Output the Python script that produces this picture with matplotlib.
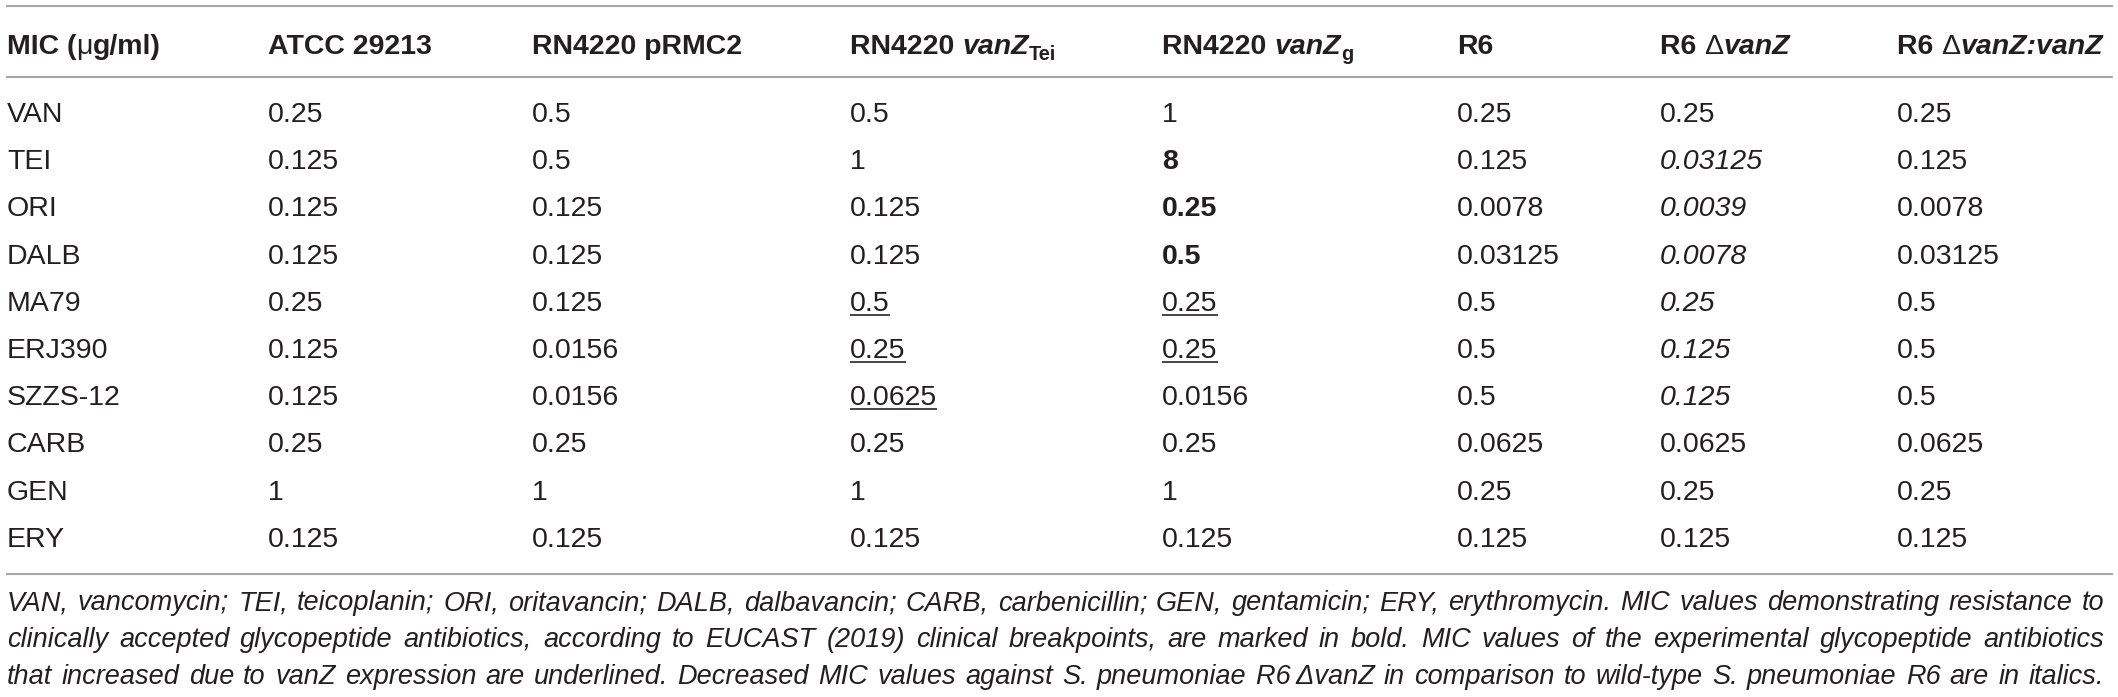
import matplotlib
matplotlib.use('Agg')
import matplotlib.pyplot as plt

W, H = 2118, 697

plt.rcParams['font.family'] = ['Liberation Sans', 'DejaVu Sans']

antibiotics = ['VAN', 'TEI', 'ORI', 'DALB', 'MA79', 'ERJ390', 'SZZS-12', 'CARB', 'GEN', 'ERY']
atcc_29213 = ['0.25', '0.125', '0.125', '0.125', '0.25', '0.125', '0.125', '0.25', '1', '0.125']
rn4220_prmc2 = ['0.5', '0.5', '0.125', '0.125', '0.125', '0.0156', '0.0156', '0.25', '1', '0.125']
rn4220_vanz_tei = ['0.5', '1', '0.125', '0.125', '0.5', '0.25', '0.0625', '0.25', '1', '0.125']
rn4220_vanz_g = ['1', '8', '0.25', '0.5', '0.25', '0.25', '0.0156', '0.25', '1', '0.125']
r6 = ['0.25', '0.125', '0.0078', '0.03125', '0.5', '0.5', '0.5', '0.0625', '0.25', '0.125']
r6_dvanz = ['0.25', '0.03125', '0.0039', '0.0078', '0.25', '0.125', '0.125', '0.0625', '0.25', '0.125']
r6_dvanz_vanz = ['0.25', '0.125', '0.0078', '0.03125', '0.5', '0.5', '0.5', '0.0625', '0.25', '0.125']

# (row, col) marks; col 1 = first strain column
bold_cells = [(1, 4), (2, 4), (3, 4)]
underlined_cells = [(4, 3), (4, 4), (5, 3), (5, 4), (6, 3)]
italic_cells = [(1, 6), (2, 6), (3, 6), (4, 6), (5, 6), (6, 6)]

# header runs: (text, style)  style: b=bold, n=normal, bi=bold italic, sub=bold subscript
headers = [
    [('MIC (', 'b'), ('\u03bc', 'n'), ('g/ml)', 'b')],
    [('ATCC 29213', 'b')],
    [('RN4220 pRMC2', 'b')],
    [('RN4220 ', 'b'), ('vanZ', 'bi'), ('Tei', 'sub')],
    [('RN4220 ', 'b'), ('vanZ', 'bi'), ('g', 'sub')],
    [('R6', 'b')],
    [('R6 ', 'b'), ('\u0394', 'n'), ('vanZ', 'bi')],
    [('R6 ', 'b'), ('\u0394', 'n'), ('vanZ:vanZ', 'bi')],
]

footnote = [
    'VAN, vancomycin; TEI, teicoplanin; ORI, oritavancin; DALB, dalbavancin; CARB, carbenicillin; '
    'GEN, gentamicin; ERY, erythromycin. MIC values demonstrating resistance to',
    'clinically accepted glycopeptide antibiotics, according to EUCAST (2019) clinical breakpoints, '
    'are marked in bold. MIC values of the experimental glycopeptide antibiotics',
    'that increased due to vanZ expression are underlined. Decreased MIC values against '
    'S. pneumoniae R6\u2009\u0394vanZ in comparison to wild-type S. pneumoniae R6 are in italics.',
]

columns = [antibiotics, atcc_29213, rn4220_prmc2, rn4220_vanz_tei, rn4220_vanz_g,
           r6, r6_dvanz, r6_dvanz_vanz]

col_x = [7, 268, 532, 850, 1162, 1457, 1660, 1897]
row_y0, row_dy = 112, 47.2
header_y = 43
txt_col = '#231f20'
line_col = '#a6a6a6'

fig = plt.figure(figsize=(W / 100, H / 100), dpi=100)
ax = fig.add_axes([0, 0, 1, 1])
ax.set_xlim(0, W)
ax.set_ylim(H, 0)
ax.axis('off')
renderer = fig.canvas.get_renderer()

styles = {
    'b': dict(fontweight='bold'),
    'n': dict(fontweight='normal'),
    'bi': dict(fontweight='bold', fontstyle='italic'),
    'sub': dict(fontweight='bold'),
}

# rules
for yy in [6, 77, 574]:
    ax.hlines(yy, 6, 2113, color=line_col, lw=1.5)

# header
hfs = 20.5
hbase = header_y + 10.5
for x0, runs in zip(col_x, headers):
    x = x0
    for s, st in runs:
        fs = hfs * 0.7 if st == 'sub' else hfs
        yb = hbase + 6 if st == 'sub' else hbase
        t = ax.text(x, yb, s, fontsize=fs, color=txt_col, va='baseline', ha='left', **styles[st])
        x += t.get_window_extent(renderer).width

# body
bfs = 20.5
for r in range(len(antibiotics)):
    yc = row_y0 + r * row_dy
    yb = yc + 10
    for c, col in enumerate(columns):
        kw = {}
        if (r, c) in bold_cells:
            kw['fontweight'] = 'bold'
        if (r, c) in italic_cells:
            kw['fontstyle'] = 'italic'
        t = ax.text(col_x[c], yb, col[r], fontsize=bfs, color=txt_col, va='baseline', ha='left', **kw)
        if (r, c) in underlined_cells:
            w = t.get_window_extent(renderer).width
            ax.hlines(yb + 4, col_x[c], col_x[c] + w, color='#444444', lw=1.4)

# footnote, justified
left, right = 7, 2104
base_y = [610, 647, 684]


def text_width(s, fs):
    t = ax.text(0, 0, s, fontsize=fs, fontstyle='italic')
    w = t.get_window_extent(renderer).width
    t.remove()
    return w


ffs = 17
natural = max(text_width(line, ffs) for line in footnote)
ffs = min(ffs * (right - left) / natural, 19.5)

for line, yb in zip(footnote, base_y):
    words = line.split(' ')
    ws = [text_width(wd, ffs) for wd in words]
    gap = (right - left - sum(ws)) / (len(words) - 1)
    x = left
    for wd, w in zip(words, ws):
        ax.text(x, yb, wd, fontsize=ffs, fontstyle='italic', color=txt_col, va='baseline', ha='left')
        x += w + gap

fig.savefig('out.png', dpi=100)
